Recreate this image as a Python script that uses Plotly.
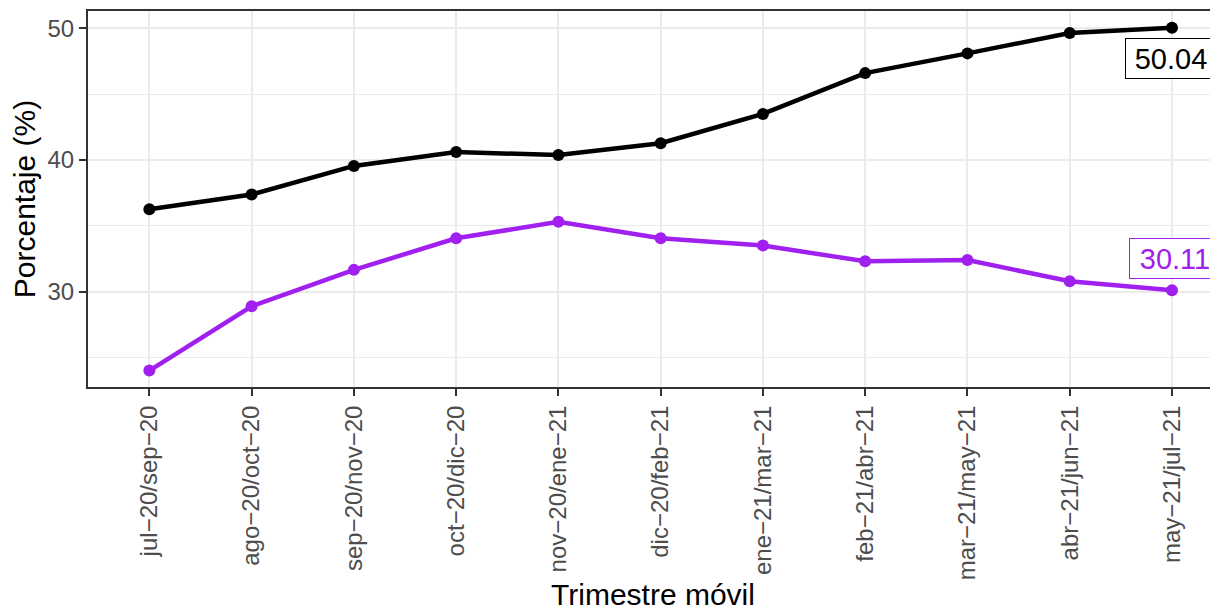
import plotly.graph_objects as go

categorias = ["jul−20/sep−20", "ago−20/oct−20", "sep−20/nov−20", "oct−20/dic−20",
              "nov−20/ene−21", "dic−20/feb−21", "ene−21/mar−21", "feb−21/abr−21",
              "mar−21/may−21", "abr−21/jun−21", "may−21/jul−21"]
serie_negra = [36.25, 37.38, 39.55, 40.6, 40.37, 41.27, 43.5, 46.6, 48.1, 49.65, 50.04]
serie_morada = [24.0, 28.88, 31.65, 34.05, 35.3, 34.05, 33.5, 32.3, 32.4, 30.78, 30.11]
y_ticks = [30, 40, 50]
y_minor = [25, 35, 45]

negro = "#000000"
morado = "#A020F0"
FONT = "Liberation Sans, Arial, sans-serif"

fig = go.Figure()
for vals, col in [(serie_negra, negro), (serie_morada, morado)]:
    fig.add_trace(go.Scatter(x=categorias, y=vals, mode="lines+markers",
                             line=dict(color=col, width=4.5),
                             marker=dict(color=col, size=12),
                             showlegend=False, cliponaxis=False))

fig.add_annotation(x=categorias[-1], y=47.72, text=f"{serie_negra[-1]:.2f}", showarrow=False,
                   font=dict(family=FONT, size=29, color=negro),
                   bordercolor=negro, borderwidth=1, borderpad=2, bgcolor="white",
                   width=86, height=35, xshift=-1)
fig.add_annotation(x=categorias[-1], y=32.48, text=f"{serie_morada[-1]:.2f}", showarrow=False,
                   font=dict(family=FONT, size=29, color=morado),
                   bordercolor=morado, borderwidth=1, borderpad=2, bgcolor="white",
                   width=86, height=35, xshift=3)

fig.update_layout(
    width=1210, height=603,
    margin=dict(l=80, r=0, t=3, b=219),
    paper_bgcolor="white", plot_bgcolor="white",
    font=dict(family=FONT, color="#4D4D4D"),
    xaxis=dict(type="category", range=[-0.6, 10.45],
               tickangle=-90, tickfont=dict(size=24, color="#4D4D4D"),
               showgrid=True, gridcolor="#EBEBEB", gridwidth=2,
               showline=True, linecolor="#333333", linewidth=2, mirror=True,
               ticks="outside", ticklen=7, tickcolor="#333333", tickwidth=2,
               title=dict(text="Trimestre móvil", font=dict(size=30, color="#000000"), standoff=10),
               zeroline=False),
    yaxis=dict(range=[22.75, 51.32], tickvals=y_ticks,
               tickfont=dict(size=24, color="#4D4D4D"),
               showgrid=True, gridcolor="#EBEBEB", gridwidth=2,
               minor=dict(tickvals=y_minor, showgrid=True, gridcolor="#EBEBEB", gridwidth=1),
               showline=True, linecolor="#333333", linewidth=2, mirror=False,
               ticks="outside", ticklen=7, tickcolor="#333333", tickwidth=2,
               title=dict(text="Porcentaje (%)", font=dict(size=30, color="#000000"), standoff=8),
               zeroline=False),
)

fig.write_html("out.html")
